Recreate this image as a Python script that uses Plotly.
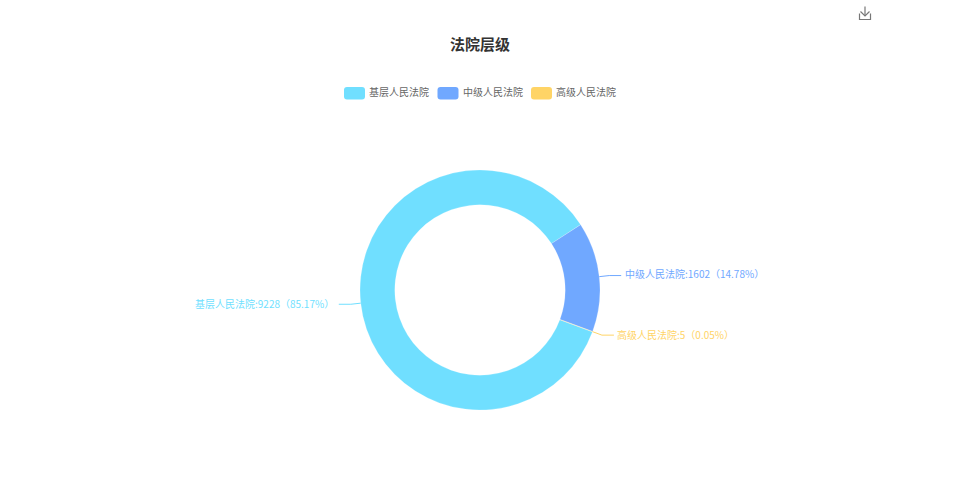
import math
import plotly.graph_objects as go

TITLE = "法院层级"
categories = ["基层人民法院", "中级人民法院", "高级人民法院"]
values = [9228, 1602, 5]
percents = ["85.17%", "14.78%", "0.05%"]
colors = ["#70DFFF", "#70A8FF", "#FFD466"]

W, H = 959, 500
CX, CY, R = 480, 290, 120
ROT = 110.4
FONT = "Noto Sans CJK SC"


def px(x):
    return x / W


def py(y):
    return 1 - y / H


fig = go.Figure(go.Pie(
    labels=categories, values=values, sort=False, direction="clockwise",
    rotation=ROT, hole=0.71, textinfo="none", showlegend=False,
    marker=dict(colors=colors, line=dict(color="#ffffff", width=0.2)),
    domain=dict(x=[px(CX - R), px(CX + R)], y=[py(CY + R), py(CY - R)]),
))

shapes, annotations = [], []


def line(points, color, width=1):
    d = "M" + " L".join(f"{px(x):.5f},{py(y):.5f}" for x, y in points)
    shapes.append(dict(type="path", xref="paper", yref="paper", path=d,
                       line=dict(color=color, width=width)))


def text(x, y, s, color, size, anchor="left", bold=False):
    annotations.append(dict(
        x=px(x), y=py(y), xref="paper", yref="paper", text=f"<b>{s}</b>" if bold else s,
        showarrow=False, xanchor=anchor, yanchor="middle",
        font=dict(family=FONT, size=size, color=color), borderpad=0))


# leader lines and outer labels, anchored on each slice's mid angle
total = sum(values)
cum = 0
for name, v, pct, c in zip(categories, values, percents, colors):
    mid = math.radians(ROT + (cum + v / 2) / total * 360)
    cum += v
    sx, sy = math.sin(mid), -math.cos(mid)
    p1 = (CX + R * sx, CY + R * sy)
    p2 = (CX + (R + 10) * sx, CY + (R + 10) * sy)
    side = 1 if sx > 0 else -1
    p3 = (p2[0] + side * 12, p2[1])
    line([p1, p2, p3], c, 1)
    label = f"{name}:{v}（{pct}）"
    if side > 0:
        dy = -2.5 if p3[1] < CY else -1
        text(p3[0] + 2.5, p3[1] + dy, label, c, 10, "left")
    else:
        text(p3[0] - 4, p3[1] - 0.5, label, c, 10, "right")

# title
text(CX, 44, TITLE, "#333333", 15, "center", bold=True)

# legend
legend_x = [344, 437.5, 531]
for lx, name, c in zip(legend_x, categories, colors):
    x0, x1, y0, y1, r = lx, lx + 21, 87, 99.5, 3
    d = (f"M{px(x0 + r)},{py(y0)} L{px(x1 - r)},{py(y0)} Q{px(x1)},{py(y0)} {px(x1)},{py(y0 + r)} "
         f"L{px(x1)},{py(y1 - r)} Q{px(x1)},{py(y1)} {px(x1 - r)},{py(y1)} "
         f"L{px(x0 + r)},{py(y1)} Q{px(x0)},{py(y1)} {px(x0)},{py(y1 - r)} "
         f"L{px(x0)},{py(y0 + r)} Q{px(x0)},{py(y0)} {px(x0 + r)},{py(y0)} Z")
    shapes.append(dict(type="path", xref="paper", yref="paper", path=d,
                       fillcolor=c, line=dict(width=0)))
    text(lx + 24.3, 92, name, "#666666", 10, "left")

# save-image icon
icon = "#777777"
line([(865, 6.5), (865, 16)], icon, 1.2)
line([(860.5, 11.5), (865, 16), (869.5, 11.5)], icon, 1.2)
line([(859.5, 13.5), (859.5, 19.5), (870.5, 19.5), (870.5, 13.5)], icon, 1.2)

fig.update_layout(
    width=W, height=H, margin=dict(l=0, r=0, t=0, b=0),
    paper_bgcolor="#ffffff", plot_bgcolor="#ffffff",
    font=dict(family=FONT), shapes=shapes, annotations=annotations,
)
fig.write_html("out.html", config=dict(displayModeBar=False),
               post_script="document.body.style.margin='0';document.documentElement.style.overflow='hidden';")
